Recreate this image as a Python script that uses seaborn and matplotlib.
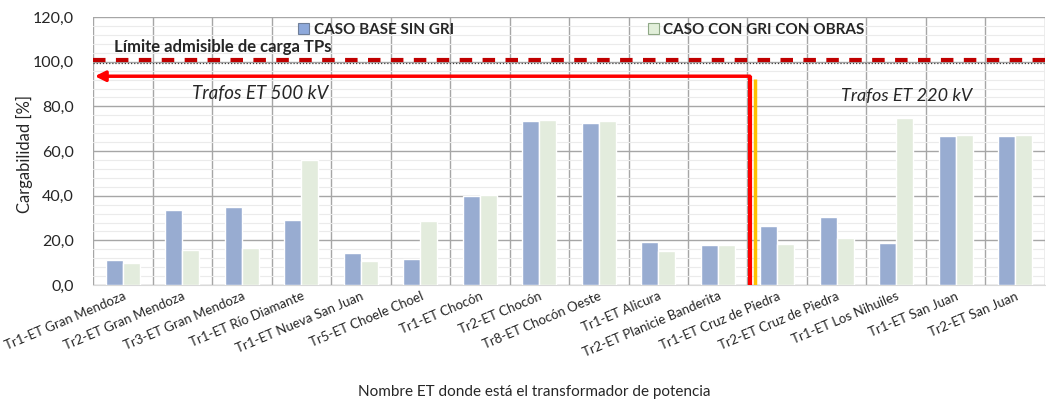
import numpy as np
import pandas as pd
import matplotlib
matplotlib.use("Agg")
import matplotlib.pyplot as plt
from matplotlib.patches import Patch
import seaborn as sns

# datos
categorias = ['Tr1-ET Gran Mendoza', 'Tr2-ET Gran Mendoza', 'Tr3-ET Gran Mendoza',
              'Tr1-ET Río Diamante', 'Tr1-ET Nueva San Juan', 'Tr5-ET Choele Choel',
              'Tr1-ET Chocón', 'Tr2-ET Chocón', 'Tr8-ET Chocón Oeste', 'Tr1-ET Alicura',
              'Tr2-ET Planicie Banderita', 'Tr1-ET Cruz de Piedra', 'Tr2-ET Cruz de Piedra',
              'Tr1-ET Los Nihuiles', 'Tr1-ET San Juan', 'Tr2-ET San Juan']
caso_base = [11.2, 33.6, 34.8, 29.2, 14.2, 11.9, 40.0, 73.4, 72.6, 19.4,
             17.9, 26.5, 30.6, 18.9, 66.7, 66.7]
caso_gri = [10.1, 15.7, 16.6, 55.8, 10.9, 28.8, 40.3, 74.1, 73.4, 15.2,
            17.9, 18.2, 20.9, 74.7, 67.3, 67.3]
series = ['CASO BASE SIN GRI', 'CASO CON GRI CON OBRAS']
limite = 100.0

df = pd.DataFrame({
    'ET': categorias * 2,
    'carga': caso_base + caso_gri,
    'caso': [series[0]] * len(categorias) + [series[1]] * len(categorias),
})

sns.set_style('white')
plt.rcParams['font.family'] = ['Lato', 'DejaVu Sans']

colores = {series[0]: '#8EA9DB', series[1]: '#E2EFDA'}

fig = plt.figure(figsize=(10.46, 4.05), dpi=100)
ax = fig.add_axes([0.089, 0.296, 0.910, 0.662])

sns.barplot(data=df, x='ET', y='carga', hue='caso', palette=colores,
            width=0.57, gap=0, ax=ax, legend=False, zorder=3)

ax.set_xlim(-0.5, len(categorias) - 0.5)
ax.set_ylim(0, 120)
ax.set_yticks(np.arange(0, 121, 20))
ax.set_yticklabels([f'{v:.1f}'.replace('.', ',') for v in np.arange(0, 121, 20)], fontsize=11.5)
ax.set_yticks(np.arange(0, 121, 4), minor=True)
ax.set_xticks(np.arange(-0.5, len(categorias), 1), minor=True)
ax.tick_params(axis='both', which='both', length=0)
ax.tick_params(axis='y', pad=14)
ax.set_xticklabels(categorias, rotation=23, ha='right', rotation_mode='anchor', fontsize=9.5)

ax.yaxis.grid(True, which='minor', color='#EBEBEB', lw=0.8, zorder=0)
ax.yaxis.grid(True, which='major', color='#A6A6A6', lw=1, zorder=0)
ax.xaxis.grid(True, which='minor', color='#A6A6A6', lw=1, zorder=0)
ax.xaxis.grid(False, which='major')
for s in ax.spines.values():
    s.set_visible(False)
ax.spines['bottom'].set_visible(True)
ax.spines['bottom'].set_color('#D9D9D9')

ax.set_xlabel('Nombre ET donde está el transformador de potencia', fontsize=11)
ax.xaxis.set_label_coords(0.463, -0.372)
ax.set_ylabel('Cargabilidad [%]', fontsize=12)
ax.yaxis.set_label_coords(-0.063, 0.49)

# limite admisible
ax.axhline(limite - 0.7, color='#404040', lw=0.9, ls=(0, (1, 1.5)), zorder=4)
ax.axhline(limite + 0.8, color='#C00000', lw=3, ls=(0, (3, 2.5)), zorder=5)
ax.text(-0.15, 106.5, 'Límite admisible de carga TPs', fontsize=12,
        fontweight='bold', va='center', ha='left')

# separacion 500 kV / 220 kV
xsep = 10.54
ax.annotate('', xy=(-0.47, 93.5), xytext=(xsep, 93.5),
            arrowprops=dict(arrowstyle='-|>', color='red', lw=2.5,
                            mutation_scale=15, shrinkA=0, shrinkB=0), zorder=6)
ax.plot([xsep, xsep], [0, 93.5], color='red', lw=3, zorder=6, solid_capstyle='butt')
ax.plot([xsep + 0.08, xsep + 0.08], [0, 92.3], color='#FFC000', lw=2.5, zorder=6,
        solid_capstyle='butt')
ax.text(2.31, 85.8, 'Trafos ET 500 kV', fontsize=13.5, style='italic', ha='center', va='center')
ax.text(13.18, 84.6, 'Trafos ET 220 kV', fontsize=13, style='italic', ha='center', va='center')

handles = [Patch(facecolor=colores[s], edgecolor='#6F7F99' if i == 0 else '#8FA886', lw=0.8)
           for i, s in enumerate(series)]
leg = ax.legend(handles, series, loc='upper center', bbox_to_anchor=(0.513, 1.03), ncol=2,
                frameon=False, columnspacing=12.7, handlelength=0.7, handleheight=0.7,
                handletextpad=0.3, prop={'weight': 'bold', 'size': 11})

fig.savefig('out.png', dpi=100)
